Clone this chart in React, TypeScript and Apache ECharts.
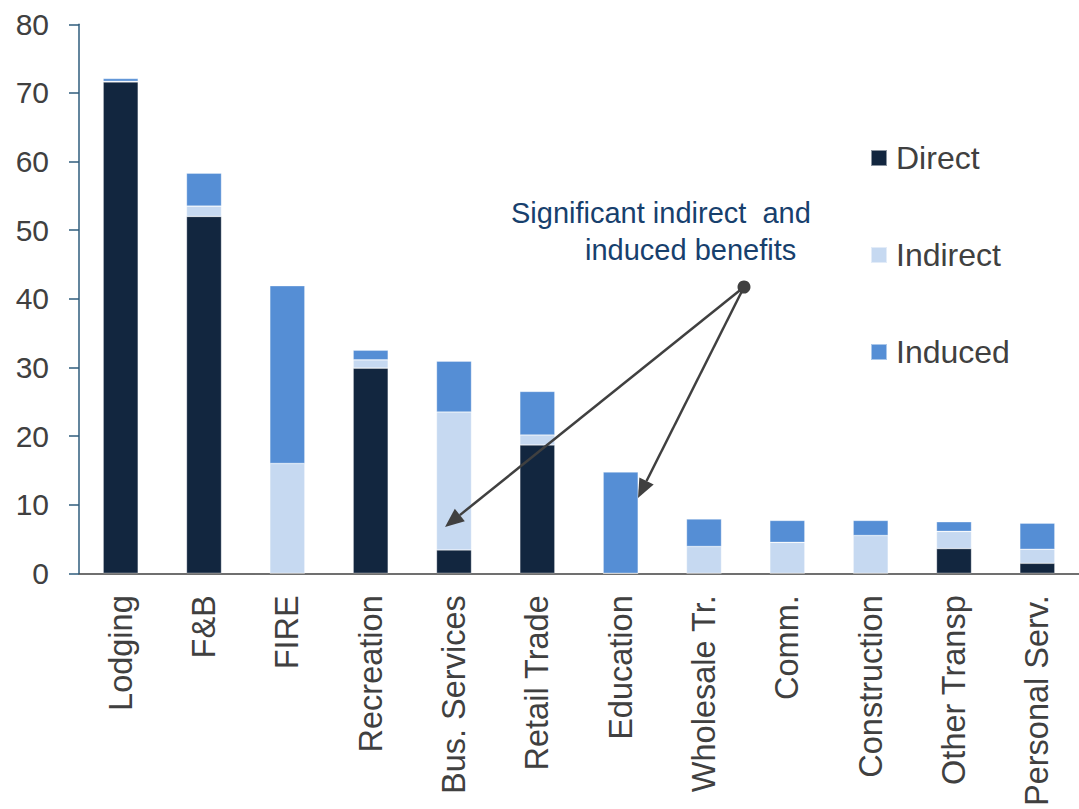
import React, { useEffect, useRef } from "react";
import * as echarts from "echarts";

const categories = [
  "Lodging",
  "F&B",
  "FIRE",
  "Recreation",
  "Bus. Services",
  "Retail Trade",
  "Education",
  "Wholesale Tr.",
  "Comm.",
  "Construction",
  "Other Transp",
  "Personal Serv.",
];
const direct = [71.6, 52.0, 0, 29.9, 3.4, 18.7, 0, 0, 0, 0, 3.6, 1.45];
const indirect = [0.1, 1.5, 16.0, 1.2, 20.1, 1.45, 0, 3.9, 4.5, 5.5, 2.5, 2.05];
const induced = [0.4, 4.8, 25.9, 1.4, 7.4, 6.35, 14.75, 4.0, 3.2, 2.2, 1.4, 3.8];
const yTicks = { min: 0, max: 80, interval: 10 };

const FONT = "'Liberation Sans', Arial, sans-serif";
const TEXT = "#404040";

function arrow(x1: number, y1: number, x2: number, y2: number) {
  const len = 19;
  const half = 8;
  const dx = x2 - x1;
  const dy = y2 - y1;
  const L = Math.sqrt(dx * dx + dy * dy);
  const ux = dx / L;
  const uy = dy / L;
  const bx = x2 - ux * len;
  const by = y2 - uy * len;
  return [
    {
      type: "line",
      z: 100,
      shape: { x1, y1, x2: bx, y2: by },
      style: { stroke: "#404040", lineWidth: 2.5 },
    },
    {
      type: "polygon",
      z: 100,
      shape: {
        points: [
          [x2, y2],
          [bx - uy * half, by + ux * half],
          [bx + uy * half, by - ux * half],
        ],
      },
      style: { fill: "#404040" },
    },
  ];
}

export default function App() {
  const ref = useRef<HTMLDivElement>(null);
  useEffect(() => {
    if (!ref.current) return;
    const chart = echarts.init(ref.current, null, { renderer: "svg" });
    const barCommon = {
      type: "bar",
      stack: "total",
      barWidth: 35,
      itemStyle: { borderColor: "rgba(255,255,255,0.5)", borderWidth: 0.6 },
    };
    chart.setOption({
      animation: false,
      textStyle: { fontFamily: FONT },
      grid: { left: 79, top: 24.3, bottom: 235, right: -8 },
      legend: {
        orient: "vertical",
        left: 865,
        top: 137,
        itemWidth: 16,
        itemHeight: 16,
        itemGap: 65,
        icon: "rect",
        textStyle: {
          fontSize: 32,
          color: TEXT,
          fontFamily: FONT,
          lineHeight: 32,
          padding: [0, 0, 0, 4],
        },
        data: ["Direct", "Indirect", "Induced"],
      },
      xAxis: {
        type: "category",
        data: categories,
        axisLine: { lineStyle: { color: "#404040", width: 1.5 } },
        axisTick: { length: 11, lineStyle: { color: "#404040", width: 1.5 } },
        axisLabel: {
          rotate: 90,
          interval: 0,
          margin: 22,
          fontSize: 32.5,
          color: TEXT,
          fontFamily: FONT,
        },
      },
      yAxis: {
        type: "value",
        min: yTicks.min,
        max: yTicks.max,
        interval: yTicks.interval,
        splitLine: { show: false },
        axisLine: { show: true, lineStyle: { color: "#2f5d7c", width: 1.5 } },
        axisTick: { show: true, length: 10, lineStyle: { color: "#2f5d7c", width: 1.5 } },
        axisLabel: { fontSize: 30, color: TEXT, margin: 30, fontFamily: FONT },
      },
      series: [
        { ...barCommon, name: "Direct", data: direct, itemStyle: { ...barCommon.itemStyle, color: "#12263f" } },
        { ...barCommon, name: "Indirect", data: indirect, itemStyle: { ...barCommon.itemStyle, color: "#c6d9f1" } },
        { ...barCommon, name: "Induced", data: induced, itemStyle: { ...barCommon.itemStyle, color: "#558ed5" } },
      ],
      graphic: [
        {
          type: "text",
          left: 511,
          top: 198,
          z: 100,
          style: {
            text: "Significant indirect  and",
            fontSize: 29,
            fill: "#17406d",
            fontFamily: FONT,
          },
        },
        {
          type: "text",
          left: 585,
          top: 235,
          z: 100,
          style: {
            text: "induced benefits",
            fontSize: 29,
            fill: "#17406d",
            fontFamily: FONT,
          },
        },
        ...arrow(744, 287, 445, 527),
        ...arrow(744, 287, 638, 498),
        {
          type: "circle",
          z: 100,
          shape: { cx: 744, cy: 287, r: 6.5 },
          style: { fill: "#404040" },
        },
      ],
    });
    return () => chart.dispose();
  }, []);
  return (
    <div
      ref={ref}
      style={{ position: "absolute", left: 0, top: 0, width: 1079, height: 809, background: "#fff" }}
    />
  );
}
